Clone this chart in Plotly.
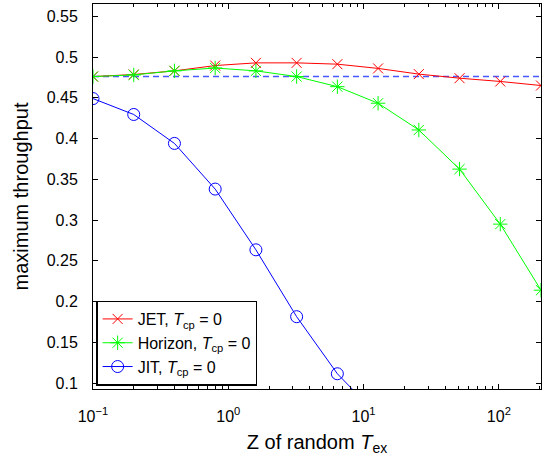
import plotly.graph_objects as go
import numpy as np

z = [0.1, 0.2, 0.4, 0.8, 1.6, 3.2, 6.4, 12.8, 25.6, 51.2, 102.4, 204.8]
jet = [0.476, 0.4785, 0.483, 0.4895, 0.4928, 0.4928, 0.4912, 0.486, 0.479, 0.474, 0.470, 0.465]
horizon = [0.476, 0.478, 0.483, 0.4865, 0.483, 0.476, 0.4636, 0.4433, 0.4105, 0.3625, 0.2950, 0.2140]
jit_z = [0.1, 0.2, 0.4, 0.8, 1.6, 3.2, 6.4, 12.8]
jit = [0.449, 0.4295, 0.394, 0.338, 0.2635, 0.1815, 0.1115, 0.060]
ref_level = 0.476

xtick_vals = [0.1, 1, 10, 100]
xtick_text = ["10<sup>−1</sup>", "10<sup>0</sup>", "10<sup>1</sup>", "10<sup>2</sup>"]
ytick_vals = [0.1, 0.15, 0.2, 0.25, 0.3, 0.35, 0.4, 0.45, 0.5, 0.55]
ytick_text = ["0.1", "0.15", "0.2", "0.25", "0.3", "0.35", "0.4", "0.45", "0.5", "0.55"]

minor_vals = [m * 10.0 ** e for e in (-1, 0, 1, 2) for m in range(2, 10) if m * 10.0 ** e <= 205]

fig = go.Figure()
fig.add_trace(go.Scatter(x=[z[0], z[-1]], y=[ref_level, ref_level], mode="lines",
                         line=dict(color="rgba(40,60,255,0.85)", width=1.5, dash="6px,4px"),
                         showlegend=False, hoverinfo="skip"))
fig.add_trace(go.Scatter(x=z, y=jet, mode="lines+markers", name="JET, <i>T</i><sub>cp</sub> = 0",
                         line=dict(color="#FF0000", width=1),
                         marker=dict(symbol="x-thin-open", size=10, color="#FF0000",
                                     line=dict(color="#FF0000", width=1))))
fig.add_trace(go.Scatter(x=z, y=horizon, mode="lines+markers", name="Horizon, <i>T</i><sub>cp</sub> = 0",
                         line=dict(color="#00FF00", width=1),
                         marker=dict(symbol="asterisk-open", size=12, color="#00FF00",
                                     line=dict(color="#00FF00", width=1))))
fig.add_trace(go.Scatter(x=jit_z, y=jit, mode="lines+markers", name="JIT, <i>T</i><sub>cp</sub> = 0",
                         line=dict(color="#0000FF", width=1),
                         marker=dict(symbol="circle-open", size=12, color="#0000FF",
                                     line=dict(color="#0000FF", width=1))))

font = dict(family="Liberation Sans, Arial, sans-serif", size=16, color="black")
fig.update_layout(
    width=545, height=462,
    margin=dict(l=93, r=4, t=4, b=73),
    paper_bgcolor="white", plot_bgcolor="white",
    font=font,
    showlegend=True,
    legend=dict(x=0.007, y=0.009, xanchor="left", yanchor="bottom",
                bordercolor="black", borderwidth=1.5, bgcolor="white",
                font=dict(family="Liberation Sans, Arial, sans-serif", size=16),
                tracegroupgap=0, itemwidth=30),
    xaxis=dict(type="log", range=[np.log10(0.1), np.log10(204.8)],
               tickvals=xtick_vals, ticktext=xtick_text,
               ticks="inside", ticklen=5, tickcolor="black",
               showline=True, linecolor="black", linewidth=1, mirror="ticks",
               showgrid=False, zeroline=False, ticklabelstandoff=13,
               minor=dict(tickvals=minor_vals, ticks="inside", ticklen=3, tickcolor="black", showgrid=False),
               title=dict(text="Z of random <i>T</i><sub>ex</sub>", font=dict(size=20), standoff=10),
               tickfont=dict(size=16)),
    yaxis=dict(range=[0.0928, 0.565],
               tickvals=ytick_vals, ticktext=ytick_text,
               ticks="inside", ticklen=5, tickcolor="black",
               showline=True, linecolor="black", linewidth=1, mirror="ticks",
               showgrid=False, zeroline=False, ticklabelstandoff=11,
               title=dict(text="maximum throughput", font=dict(size=20), standoff=12),
               tickfont=dict(size=16)),
)

fig.write_html("out.html")
